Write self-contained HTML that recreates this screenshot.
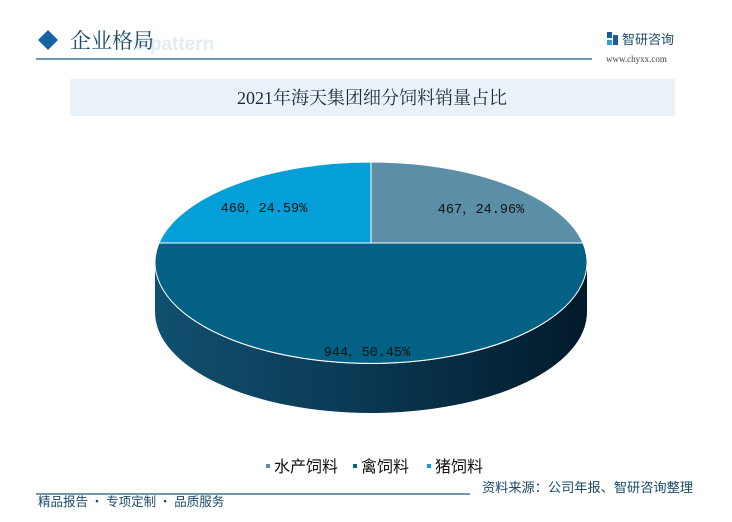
<!DOCTYPE html>
<html><head><meta charset="utf-8"><style>
body{margin:0;background:#fff;}
.w{position:relative;width:732px;height:522px;overflow:hidden;font-family:"Liberation Sans","Noto Sans CJK SC",sans-serif;}
</style></head><body><div class="w">
<svg width="732" height="522" viewBox="0 0 732 522" xmlns="http://www.w3.org/2000/svg">
<defs>
<linearGradient id="side" x1="0" x2="1" y1="0" y2="0">
<stop offset="0" stop-color="#11506f"/><stop offset="0.45" stop-color="#0a3a55"/><stop offset="1" stop-color="#021a2a"/>
</linearGradient>
</defs>
<polygon points="48,30 58,40 48,50 38,40" fill="#1565a0"/>
<text x="134" y="50" font-family="Liberation Sans" font-weight="bold" font-size="19" fill="#e3ecf4">e pattern</text>
<text x="70" y="48" font-family="'Noto Serif CJK SC',serif" font-size="21" fill="#1a4a6a">企业格局</text>
<line x1="36" y1="59" x2="592" y2="59" stroke="#1a5a80" stroke-width="1.3"/>
<rect x="607" y="32" width="5" height="6" fill="#1a5aa0"/><rect x="613" y="35" width="5" height="10" fill="#1a5aa0"/><rect x="607" y="40" width="5" height="5" fill="#3a9ad0"/>
<text x="622" y="44" font-size="13" fill="#1a4a6a" font-family="'Noto Sans CJK SC',sans-serif">智研咨询</text>
<text x="606" y="62" font-size="9" fill="#444" font-family="'Liberation Serif',serif">www.chyxx.com</text>
<rect x="70" y="79" width="605" height="37" fill="#e9f2f9"/>
<text x="372" y="104" text-anchor="middle" font-family="'Liberation Serif','Noto Serif CJK SC',serif" font-size="18" fill="#1a2a40">2021年海天集团细分饲料销量占比</text>
<path d="M155,263 A216,101 0 0 0 587,263 L587,312 A216,101 0 0 1 155,312 Z" fill="url(#side)"/>
<path d="M371,243 L583,243 A216,101 0 1 1 159,243 Z" fill="#036186" stroke="#fff" stroke-width="1"/>
<path d="M371,243 L371,162 A216,101 0 0 1 583,243 Z" fill="#5b8fa8" stroke="#fff" stroke-width="1"/>
<path d="M371,243 L159,243 A216,101 0 0 1 371,162 Z" fill="#049fd9" stroke="#fff" stroke-width="1"/>
<g font-family="'Liberation Mono','Noto Serif CJK SC',monospace" font-size="13.5" fill="#111" text-anchor="middle">
<text x="481" y="213">467，24.96%</text>
<text x="264" y="212">460，24.59%</text>
<text x="367" y="356">944，50.45%</text>
</g>
<g font-family="'Noto Sans CJK SC',sans-serif" font-size="16" fill="#111">
<rect x="266" y="464" width="4" height="4" fill="#5b8fa8"/><text x="274" y="472">水产饲料</text>
<rect x="353" y="464" width="4" height="4" fill="#036186"/><text x="361" y="472">禽饲料</text>
<rect x="427" y="464" width="4" height="4" fill="#049fd9"/><text x="435" y="472">猪饲料</text>
</g>
<line x1="36" y1="494" x2="470" y2="494" stroke="#1a5a80" stroke-width="1.3"/>
<text x="482" y="492" font-family="'Noto Sans CJK SC',sans-serif" font-size="13.2" fill="#1a4a6a">资料来源：公司年报、智研咨询整理</text>
<text x="38" y="506" font-family="'Noto Sans CJK SC',sans-serif" font-size="12.5" fill="#1a4a6a">精品报告 · 专项定制 · 品质服务</text>
</svg>
</div></body></html>
